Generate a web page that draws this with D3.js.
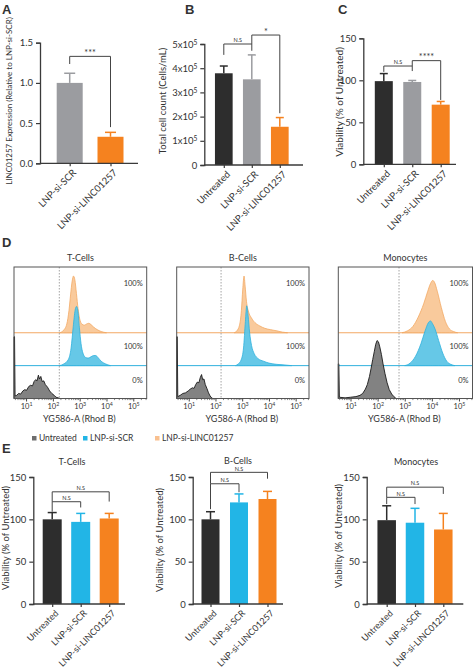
<!DOCTYPE html>
<html><head><meta charset="utf-8">
<script src="https://cdn.jsdelivr.net/npm/d3@7"></script>
<style>
body{margin:0;background:#fff;}
text{font-family:Lato,'Open Sans',sans-serif;fill:#333;}
</style>
</head><body>
<script>
// ---------------- DATA ----------------
const groups3 = ["Untreated", "LNP-si-SCR", "LNP-si-LINC01257"];
const groupsA = ["LNP-si-SCR", "LNP-si-LINC01257"];

const aValues = [1.0, 0.33];
const aErrors = [0.12, 0.055];
const aTicks = [0, 0.5, 1.0, 1.5];

const bValues = [3.79e5, 3.54e5, 1.58e5];
const bErrors = [0.30e5, 1.01e5, 0.38e5];
const bTicks = [0, 1e5, 2e5, 3e5, 4e5, 5e5];

const cValues = [99, 98, 71];
const cErrors = [9, 1.8, 3.8];
const pctTicks = [0, 50, 100, 150];

const eTValues = [100, 97, 101];
const eTErrors = [8, 10, 6];
const eBValues = [100, 120, 124];
const eBErrors = [9, 10, 9];
const eMValues = [99, 96, 88];
const eMErrors = [17, 17, 19];

const aBrackets = [{a:0, b:1, y:1.33, la:1.235, lb:0.45, label:"***"}];
const bBrackets = [{a:0, b:1, y:5.0e5, la:4.55e5, lb:4.72e5, label:"N.S"},
                   {a:1, b:2, y:5.37e5, la:5.0e5, lb:2.14e5, label:"*"}];
const cBrackets = [{a:0, b:1, y:117, la:110, lb:111, label:"N.S"},
                   {a:1, b:2, y:123.4, la:117, lb:76.6, label:"****"}];
const eTBrackets = [{a:0, b:1, y:120.8, la:109, lb:114, label:"N.S"},
                    {a:0, b:2, y:132.5, la:120.8, lb:121, label:"N.S"}];
const eBBrackets = [{a:0, b:1, y:142, la:112, lb:132, label:"N.S"},
                    {a:0, b:2, y:155.5, la:142, lb:148, label:"N.S"}];
const eMBrackets = [{a:0, b:1, y:126, la:118, lb:118, label:"N.S"},
                    {a:0, b:2, y:138, la:126, lb:130, label:"N.S"}];

// Flow histograms: [log10 intensity, % of mode]
const flowTicks = [1, 2, 3, 4, 5];
const tOrange = [[2.25,0],[2.4,4],[2.52,14],[2.6,35],[2.66,60],[2.72,82],[2.77,90],[2.82,84],[2.88,62],[2.94,38],[3.0,22],[3.08,14],[3.17,12],[3.26,14],[3.34,15],[3.42,13],[3.52,9],[3.65,5],[3.8,2],[4.0,0]];
const tBlue = [[2.25,0],[2.42,3],[2.58,10],[2.68,28],[2.76,62],[2.83,88],[2.88,94],[2.93,88],[2.99,60],[3.05,35],[3.12,20],[3.22,13],[3.32,12],[3.42,14],[3.52,16],[3.6,16],[3.68,13],[3.8,7],[3.95,3],[4.15,0]];
const tBlack = [[0.55,98],[0.57,98],[0.59,4],[0.65,5],[0.72,8],[0.8,7],[0.88,12],[0.95,14],[1.02,13],[1.1,19],[1.17,21],[1.24,20],[1.3,27],[1.36,30],[1.41,28],[1.46,37],[1.5,31],[1.55,35],[1.6,27],[1.66,28],[1.72,22],[1.8,18],[1.88,12],[1.96,8],[2.05,5],[2.12,2],[2.2,1],[2.27,0]];
const bOrange = [[2.7,0],[2.8,3],[2.9,12],[2.97,35],[3.02,68],[3.07,90],[3.11,74],[3.16,50],[3.24,33],[3.34,24],[3.48,16],[3.65,11],[3.85,7],[4.05,5],[4.3,3],[4.5,1],[4.7,0]];
const bBlue = [[2.75,0],[2.86,3],[2.96,9],[3.05,28],[3.12,70],[3.17,95],[3.22,80],[3.28,52],[3.35,32],[3.45,19],[3.6,11],[3.8,7],[4.0,4],[4.3,2],[4.6,1],[4.85,0]];
const bBlack = [[0.55,98],[0.57,98],[0.59,3],[0.68,5],[0.78,8],[0.88,9],[0.98,12],[1.06,15],[1.14,17],[1.2,16],[1.26,22],[1.32,26],[1.38,25],[1.43,33],[1.48,38],[1.52,30],[1.57,31],[1.62,22],[1.68,16],[1.74,9],[1.8,4],[1.86,1],[1.9,0]];
const mOrange = [[2.9,0],[3.1,3],[3.3,10],[3.5,25],[3.7,46],[3.85,66],[3.95,78],[4.03,83],[4.1,80],[4.2,66],[4.35,40],[4.5,18],[4.65,6],[4.8,2],[4.95,0]];
const mBlue = [[3.0,0],[3.2,4],[3.4,15],[3.6,35],[3.75,55],[3.87,68],[3.95,71],[4.02,67],[4.12,58],[4.25,40],[4.4,20],[4.55,7],[4.7,2],[4.85,0]];
const mBlack = [[0.55,55],[0.57,55],[0.59,2],[0.8,1],[1.0,2],[1.2,3],[1.35,5],[1.45,8],[1.55,15],[1.62,22],[1.7,35],[1.76,48],[1.82,62],[1.88,75],[1.93,86],[1.98,92],[2.03,90],[2.08,82],[2.14,70],[2.2,55],[2.27,40],[2.35,25],[2.43,14],[2.52,7],[2.6,3],[2.68,0]];
const rowLabels = ["100%", "100%", "0%"];
const legendLabels = ["Untreated", "LNP-si-SCR", "LNP-si-LINC01257"];

// ---------------- STYLE ----------------
const colBlack = "#2d2d2d", colGray = "#9b9ca0", colOrange = "#f5821f", colCyan = "#22b5e6";
const axisCol = "#3a3a3a";

const svg = d3.select("body").append("svg").attr("width", 474).attr("height", 671);

function sup(sel, base, exp) {
  sel.text(null);
  sel.append("tspan").text(base);
  sel.append("tspan").attr("dy", "-0.45em").attr("font-size", "0.7em").text(exp);
}

function barPanel(p) {
  const g = svg.append("g");
  const y = d3.scaleLinear().domain(p.yDomain).range([p.yBottom, p.yTop]);
  const x = d3.scalePoint().domain(p.cats).range([p.c0, p.c1]);
  // bars
  g.selectAll("rect.bar").data(p.values).join("rect")
    .attr("x", (d,i) => x(p.cats[i]) - p.bw/2).attr("width", p.bw)
    .attr("y", d => y(d)).attr("height", d => y(0) - y(d))
    .attr("fill", (d,i) => p.colors[i]);
  // error bars
  p.values.forEach((v,i) => {
    const cx = x(p.cats[i]), top = y(v + p.errors[i]);
    g.append("line").attr("x1", cx).attr("x2", cx).attr("y1", y(v)).attr("y2", top)
      .attr("stroke", p.colors[i]).attr("stroke-width", 1.5);
    g.append("line").attr("x1", cx - p.cap/2).attr("x2", cx + p.cap/2).attr("y1", top).attr("y2", top)
      .attr("stroke", p.colors[i]).attr("stroke-width", 1.5);
  });
  // y axis
  const ya = g.append("g").attr("transform", `translate(${p.ax0},0)`)
    .call(d3.axisLeft(y).tickValues(p.ticks).tickSize(4).tickPadding(3).tickFormat(p.fmt || (d => d)));
  ya.select(".domain").attr("stroke", axisCol).attr("stroke-width", 1.3);
  ya.selectAll(".tick line").attr("stroke", axisCol).attr("stroke-width", 1.2);
  ya.selectAll(".tick text").attr("font-size", p.tickSize || 9.5).attr("fill", "#333")
    .style("font-family", "Lato,'Open Sans',sans-serif");
  if (p.supFmt) ya.selectAll(".tick text").each(function(d){ const s = p.supFmt(d); if (s) sup(d3.select(this), s[0], s[1]); });
  // x axis
  g.append("line").attr("x1", p.ax0).attr("x2", p.ax1).attr("y1", y(0)).attr("y2", y(0))
    .attr("stroke", axisCol).attr("stroke-width", 1.3);
  const xa = g.append("g").attr("transform", `translate(0,${y(0)})`)
    .call(d3.axisBottom(x).tickSize(3).tickFormat(""));
  xa.select(".domain").remove();
  xa.selectAll(".tick line").attr("stroke", axisCol).attr("stroke-width", 1.2);
  p.cats.forEach(c => {
    g.append("text").attr("transform", `translate(${x(c) + 3},${y(0) + 6}) rotate(-45)`)
      .attr("text-anchor", "end").attr("dy", "0.6em").attr("font-size", p.labSize || 9.5).text(c);
  });
  // brackets
  (p.brackets || []).forEach(b => {
    const xa_ = x(p.cats[b.a]), xb = x(p.cats[b.b]);
    g.append("path").attr("d", `M${xa_},${y(b.la)}V${y(b.y)}H${xb}V${y(b.lb)}`)
      .attr("fill", "none").attr("stroke", "#444").attr("stroke-width", 1);
    const isNS = b.label === "N.S";
    g.append("text").attr("x", (xa_ + xb)/2).attr("y", y(b.y) - (isNS ? 1.8 : 0.5))
      .attr("text-anchor", "middle").attr("font-size", isNS ? 5.5 : 9).text(b.label);
  });
  // y title
  g.append("text").attr("transform", `translate(${p.titleX},${p.titleY}) rotate(-90)`)
    .attr("text-anchor", "middle").attr("font-size", p.titleSize || 10).text(p.yTitle);
  if (p.header) g.append("text").attr("x", p.header[1]).attr("y", p.header[2])
    .attr("text-anchor", "middle").attr("font-size", 9).text(p.header[0]);
}

function letter(t, x, y) {
  svg.append("text").attr("x", x).attr("y", y).attr("font-size", 13).attr("font-weight", "bold")
    .attr("fill", "#111").style("font-family", "Arial, 'Liberation Sans', sans-serif").text(t);
}

letter("A", 2, 14); letter("B", 185, 14); letter("C", 338, 14);
letter("D", 2, 247); letter("E", 2, 453);

barPanel({cats: groupsA, values: aValues, errors: aErrors, colors: [colGray, colOrange],
  yDomain: [0, 1.5], yBottom: 163.3, yTop: 42.7, c0: 69.7, c1: 110.5, bw: 26, cap: 11,
  ax0: 40, ax1: 138, ticks: aTicks, fmt: d3.format(".1f"), brackets: aBrackets,
  yTitle: "LINC01257 Expression (Relative to LNP-si-SCR)", titleX: 12, titleY: 101, titleSize: 8});

barPanel({cats: groups3, values: bValues, errors: bErrors, colors: [colBlack, colGray, colOrange],
  yDomain: [0, 5e5], yBottom: 165, yTop: 44, c0: 223.8, c1: 279.8, bw: 17.7, cap: 8,
  ax0: 204.3, ax1: 303, ticks: bTicks, fmt: d => d === 0 ? "0" : (d/1e5) + "x10",
  supFmt: d => d === 0 ? null : [(d/1e5) + "x10", "5"], brackets: bBrackets,
  yTitle: "Total cell count (Cells/mL)", titleX: 166, titleY: 101, titleSize: 9.5});

barPanel({cats: groups3, values: cValues, errors: cErrors, colors: [colBlack, colGray, colOrange],
  yDomain: [0, 150], yBottom: 164.3, yTop: 38.3, c0: 383.8, c1: 440.7, bw: 18, cap: 8,
  ax0: 363.3, ax1: 456, ticks: pctTicks, brackets: cBrackets,
  yTitle: "Viability (% of Untreated)", titleX: 343, titleY: 102, titleSize: 10});

const eCols = [colBlack, colCyan, colOrange];
barPanel({cats: groups3, values: eTValues, errors: eTErrors, colors: eCols,
  yDomain: [0, 150], yBottom: 604, yTop: 477, c0: 52.2, c1: 109.2, bw: 19, cap: 9,
  ax0: 33.3, ax1: 125, ticks: pctTicks, brackets: eTBrackets, labSize: 9,
  yTitle: "Viability (% of Untreated)", titleX: 9, titleY: 538, titleSize: 9.5, header: ["T-Cells", 72, 465]});
barPanel({cats: groups3, values: eBValues, errors: eBErrors, colors: eCols,
  yDomain: [0, 150], yBottom: 604, yTop: 477, c0: 210.5, c1: 267.5, bw: 18, cap: 9,
  ax0: 192.7, ax1: 283, ticks: pctTicks, brackets: eBBrackets, labSize: 9,
  yTitle: "Viability (% of Untreated)", titleX: 163, titleY: 540, titleSize: 9.5, header: ["B-Cells", 238, 464]});
barPanel({cats: groups3, values: eMValues, errors: eMErrors, colors: eCols,
  yDomain: [0, 150], yBottom: 604, yTop: 477, c0: 386.7, c1: 443.3, bw: 18.5, cap: 9,
  ax0: 366.7, ax1: 463.3, ticks: pctTicks, brackets: eMBrackets, labSize: 9,
  yTitle: "Viability (% of Untreated)", titleX: 342, titleY: 536, titleSize: 9.5, header: ["Monocytes", 416, 465]});

// ---------------- FLOW PANELS ----------------
function flowPanel(p) {
  const g = svg.append("g");
  const x = d3.scaleLinear().domain([0.55, 5.5]).range([p.x0, p.x1]);
  const h = p.y1 - p.y0;
  const hs = d3.scaleLinear().domain([0, 100]).range([0, 63]);
  const bases = [p.y1 - h/2, p.y1 - h/4, p.y1];
  const fills = ["#f9c797", "#5ec5e6", "#7b7b7b"];
  const strokes = ["#f3a965", "#2fb1dd", "#1a1a1a"];
  [0, 1].forEach(i => g.append("line").attr("x1", p.x0).attr("x2", p.x1).attr("y1", bases[i]).attr("y2", bases[i])
    .attr("stroke", strokes[i]).attr("stroke-width", 1));
  p.series.forEach((s, i) => {
    const area = d3.area().x(d => x(d[0])).y0(bases[i]).y1(d => bases[i] - hs(d[1]))
      .curve(i === 2 ? d3.curveLinear : d3.curveMonotoneX);
    g.append("path").datum(s).attr("d", area).attr("fill", fills[i]).attr("fill-opacity", 0.95)
      .attr("stroke", strokes[i]).attr("stroke-width", i === 2 ? 0.9 : 0.8);
  });
  g.append("line").attr("x1", x(p.gate)).attr("x2", x(p.gate)).attr("y1", p.y0).attr("y2", p.y1)
    .attr("stroke", "#9a9a9a").attr("stroke-width", 0.9).attr("stroke-dasharray", "1.5,1.5");
  g.append("rect").attr("x", p.x0).attr("y", p.y0).attr("width", p.x1 - p.x0).attr("height", h)
    .attr("fill", "none").attr("stroke", "#555").attr("stroke-width", 1);
  const xa = g.append("g").attr("transform", `translate(0,${p.y1})`)
    .call(d3.axisBottom(x).tickValues(flowTicks).tickSize(3).tickPadding(2));
  xa.select(".domain").remove();
  xa.selectAll(".tick line").attr("stroke", "#444");
  xa.selectAll(".tick text").attr("font-size", 7.5).style("font-family", "Lato,'Open Sans',sans-serif")
    .each(function(d){ sup(d3.select(this), "10", String(d)); });
  const minor = [];
  for (let dcd = 0; dcd < 6; dcd++) for (let m = 2; m < 10; m++) {
    const v = dcd + Math.log10(m);
    if (v > 0.56 && v < 5.49) minor.push(v);
  }
  g.selectAll("line.minor").data(minor).join("line").attr("x1", d => x(d)).attr("x2", d => x(d))
    .attr("y1", p.y1).attr("y2", p.y1 + 1.6).attr("stroke", "#555").attr("stroke-width", 0.7);
  g.append("text").attr("x", (p.x0 + p.x1)/2 - 1).attr("y", 422).attr("text-anchor", "middle")
    .attr("font-size", 9).text("YG586-A (Rhod B)");
  g.append("text").attr("x", (p.x0 + p.x1)/2).attr("y", 261).attr("text-anchor", "middle")
    .attr("font-size", 9).text(p.title);
  const ly = [p.y0 + 19, p.y0 + 82, p.y0 + 116];
  rowLabels.forEach((t, i) => g.append("text").attr("x", p.x1 - 4).attr("y", ly[i])
    .attr("text-anchor", "end").attr("font-size", 7.5).attr("fill", "#444").text(t));
}

flowPanel({x0: 14, x1: 146.7, y0: 267, y1: 398.5, gate: 2.24, title: "T-Cells", series: [tOrange, tBlue, tBlack]});
flowPanel({x0: 176.7, x1: 309, y0: 267, y1: 398.5, gate: 2.21, title: "B-Cells", series: [bOrange, bBlue, bBlack]});
flowPanel({x0: 338.3, x1: 472.5, y0: 267, y1: 398.5, gate: 2.79, title: "Monocytes", series: [mOrange, mBlue, mBlack]});

// ---------------- LEGEND ----------------
const legCols = ["#6e6e6e", colCyan, "#f9c08f"];
const legX = [32, 83, 155];
legendLabels.forEach((t, i) => {
  svg.append("rect").attr("x", legX[i]).attr("y", 436).attr("width", 4.5).attr("height", 4.5).attr("fill", legCols[i]);
  svg.append("text").attr("x", legX[i] + 7).attr("y", 441.3).attr("font-size", 8.5).text(t);
});
</script>
</body></html>
